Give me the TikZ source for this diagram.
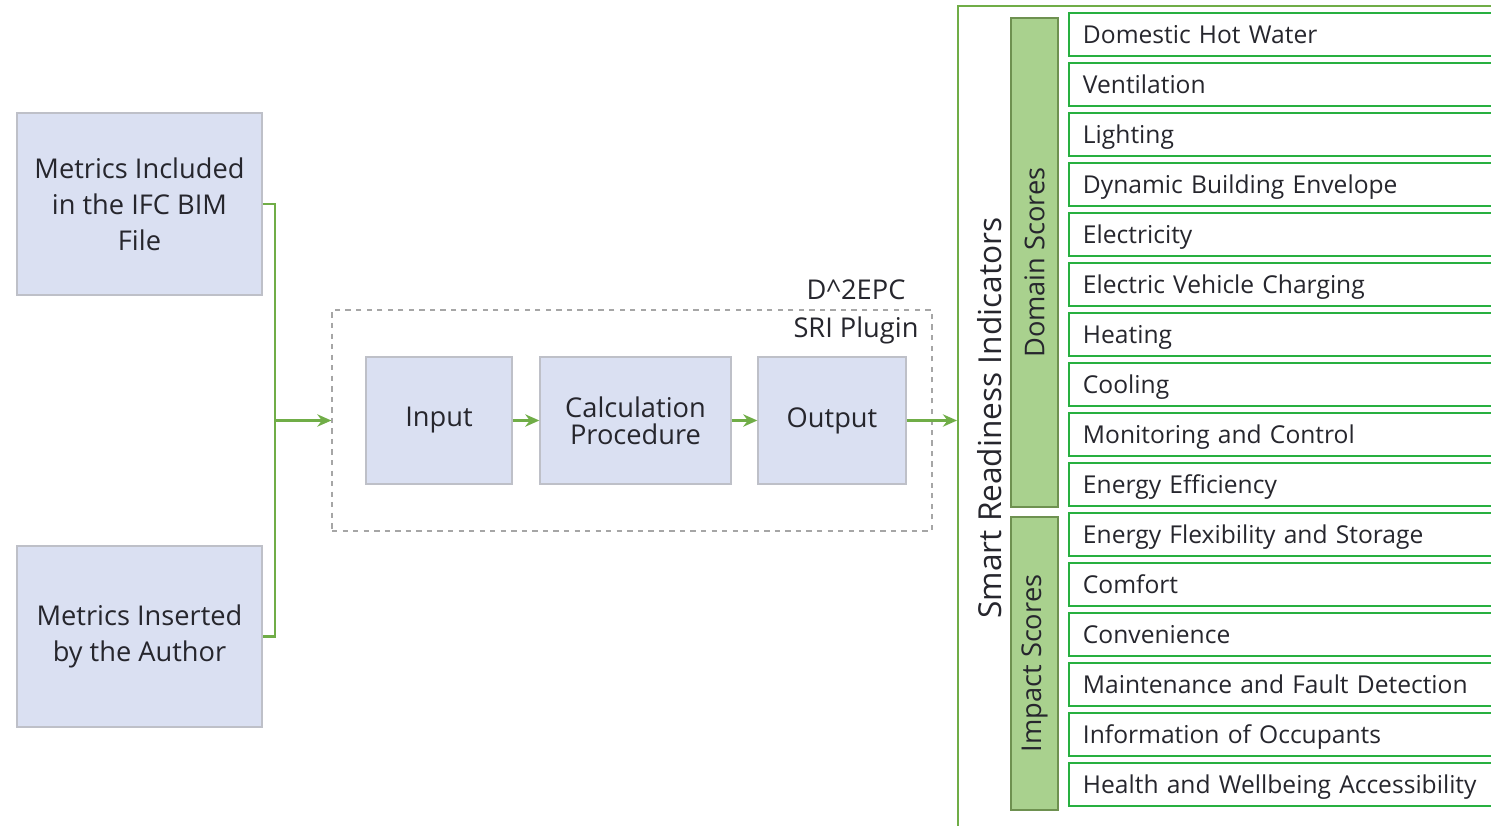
\documentclass[tikz,border=0pt]{standalone}
\usepackage{fontspec}
\setmainfont{Open Sans}
\usetikzlibrary{positioning, arrows.meta}

\definecolor{boxblue}{RGB}{218,224,242}
\definecolor{boxgray}{RGB}{190,192,200}
\definecolor{linkgreen}{RGB}{112,173,71}
\definecolor{barfill}{RGB}{169,209,142}
\definecolor{bardraw}{RGB}{110,145,80}
\definecolor{itemgreen}{RGB}{40,176,64}
\definecolor{txt}{RGB}{38,38,45}

\tikzset{
  metricbox/.style={draw=boxgray, fill=boxblue, line width=0.8pt, align=center,
    text=txt, font=\fontsize{15.5}{20.4}\selectfont},
  stepbox/.style={draw=boxgray, fill=boxblue, line width=0.8pt, align=center,
    text=txt, minimum height=2.54cm, inner sep=0pt,
    font=\fontsize{15.5}{15.3}\selectfont},
  link/.style={draw=linkgreen, line width=1.3pt},
  scorebar/.style={draw=bardraw, fill=barfill, line width=1pt, rotate=90,
    minimum height=0.94cm, inner sep=0pt, text=txt,
    font=\fontsize{15.5}{18}\selectfont},
  itembox/.style={draw=itemgreen, line width=1.1pt, anchor=west,
    minimum width=8.84cm, minimum height=0.86cm, text width=8.28cm,
    text height=10pt, text depth=0pt,
    inner xsep=0.28cm, inner ysep=0pt, text=txt,
    font=\fontsize{14}{17}\selectfont},
  >={Stealth[length=8pt, width=7pt]}
}

\begin{document}
\begin{tikzpicture}[x=0.02cm, y=-0.02cm]
    \clip (0,0) rectangle (1491,825);
    \fill[white] (0,0) rectangle (1491,825);

    % Metrics sources
    \node[metricbox, minimum width=4.9cm, minimum height=3.64cm] (ifc) at (139.5,204)
        {Metrics Included\\in the IFC BIM\\File};
    \node[metricbox, minimum width=4.9cm, minimum height=3.62cm] (author) at (139.5,636.5)
        {Metrics Inserted\\by the Author};

    % Plugin frame
    \node[draw=gray!70, dashed, line width=0.8pt, minimum width=12cm,
        minimum height=4.42cm] (plugin) at (632,420.5) {};
    \node[text=txt, align=center, font=\fontsize{15.5}{22}\selectfont] (pluginlabel)
        at (856,312) {D\^{}2EPC\\SRI Plugin};

    % Plugin steps
    \node[stepbox, minimum width=2.92cm] (input) at (439,420.5) {Input};
    \node[stepbox, minimum width=3.82cm] (calc) at (635.5,420.5) {Calculation\\Procedure};
    \node[stepbox, minimum width=2.96cm] (output) at (832,420.5) {Output};

    % Connectors
    \coordinate (junction) at (275,420.5);
    \coordinate (sriedge) at (957,420.5);
    \draw[link] (ifc.east) -| (junction) |- (author.east);
    \draw[link,->] (junction) -- (plugin.west);
    \draw[link,->] (input) -- (calc);
    \draw[link,->] (calc) -- (output);
    \draw[link,->] (output) -- (sriedge);

    % Smart readiness indicators
    \draw[linkgreen, line width=1pt] (958,6) rectangle (1600,900);
    \node[rotate=90, text=txt, font=\fontsize{18}{21}\selectfont] (sri) at (990,418)
        {Smart Readiness Indicators};
    \node[scorebar, minimum width=9.78cm] (domain) at (1034.5,262.5) {Domain Scores};
    \node[scorebar, minimum width=5.86cm] (impact) at (1034.5,663.5) {Impact Scores};

    \foreach \name [count=\i from 0] in {Domestic Hot Water, Ventilation, Lighting,
        Dynamic Building Envelope, Electricity, Electric Vehicle Charging, Heating,
        Cooling, Monitoring and Control, Energy Efficiency,
        Energy Flexibility and Storage, Comfort, Convenience,
        Maintenance and Fault Detection, Information of Occupants,
        Health and Wellbeing Accessibility}
        \node[itembox] (item\i) at (1068,34.5+50*\i) {\name};

\end{tikzpicture}
\end{document}
